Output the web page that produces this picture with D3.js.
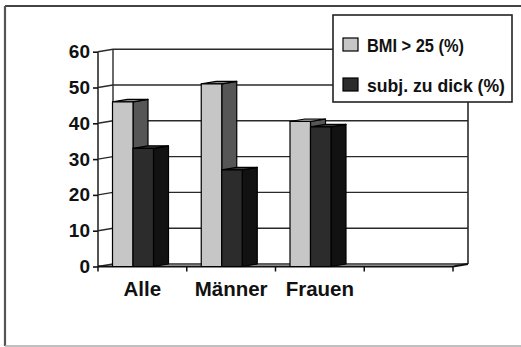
<!DOCTYPE html>
<html>
<head>
<meta charset="utf-8">
<script src="https://cdn.jsdelivr.net/npm/d3@7/dist/d3.min.js"></script>
<style>
  html, body { margin: 0; padding: 0; background: #fff; }
  svg { display: block; }
  text { font-family: "Liberation Sans", Arial, sans-serif; font-weight: bold; fill: #111; }
</style>
</head>
<body>
<script>
// Category slots along the floor (the last slot is left empty)
const categories = ["Alle", "Männer", "Frauen", ""];
// Series names and values in percent
const seriesNames = ["BMI > 25 (%)", "subj. zu dick (%)"];
const bmiOver25 = [46, 51, 40.5];
const subjZuDick = [33, 27, 39];
// Value-axis tick labels
const yTicks = [0, 10, 20, 30, 40, 50, 60];

const W = 521, H = 347;
const svg = d3.select("body").append("svg").attr("width", W).attr("height", H);

// 3D depth offset of the plot box
const DX = 15, DY = -2.5;

const y = d3.scaleLinear().domain([0, 60]).range([266.5, 51.7]);
const x = d3.scaleBand().domain(categories).range([98, 453]).paddingInner(0).paddingOuter(0);
const inner = d3.scaleBand().domain(seriesNames).range([14.5, 55.5]);

// Outer frame
svg.append("line").attr("x1", 5).attr("y1", 6).attr("x2", W).attr("y2", 6)
  .attr("stroke", "#444").attr("stroke-width", 2);
svg.append("line").attr("x1", 5).attr("y1", 6).attr("x2", 5).attr("y2", 346)
  .attr("stroke", "#555").attr("stroke-width", 2.2);
svg.append("line").attr("x1", 5).attr("y1", 346).attr("x2", W).attr("y2", 346)
  .attr("stroke", "#aaa").attr("stroke-width", 1.5);

const plot = svg.append("g");
const x0 = x.range()[0], x1 = x.range()[1];
const gridColor = "#2a2a2a";

// Gridlines: side-wall connector plus back-wall line
yTicks.forEach(v => {
  const yf = y(v), yb = y(v) + DY;
  plot.append("path")
    .attr("d", `M${x0},${yf}L${x0 + DX},${yb}L${x1 + DX},${yb}`)
    .attr("fill", "none").attr("stroke", gridColor).attr("stroke-width", v === 0 ? 1.6 : 1.4);
});
// Walls: front axis, back-left edge, back-right edge
plot.append("line").attr("x1", x0).attr("y1", y(0)).attr("x2", x0).attr("y2", y(60))
  .attr("stroke", gridColor).attr("stroke-width", 1.6);
plot.append("line").attr("x1", x0 + DX).attr("y1", y(0) + DY).attr("x2", x0 + DX).attr("y2", y(60) + DY)
  .attr("stroke", gridColor).attr("stroke-width", 1.4);
plot.append("line").attr("x1", x1 + DX).attr("y1", y(0) + DY).attr("x2", x1 + DX).attr("y2", y(60) + DY)
  .attr("stroke", gridColor).attr("stroke-width", 1.6);
// Floor front edge and right edge
plot.append("path")
  .attr("d", `M${x0},${y(0)}L${x1},${y(0)}L${x1 + DX},${y(0) + DY}`)
  .attr("fill", "none").attr("stroke", "#111").attr("stroke-width", 2.2);

// Value axis ticks and labels
const yAxis = d3.axisLeft(y).tickValues(yTicks).tickSize(5).tickPadding(3);
const ya = plot.append("g").attr("transform", `translate(${x0},0)`).call(yAxis);
ya.select(".domain").remove();
ya.selectAll(".tick line").attr("stroke", "#111").attr("stroke-width", 1.6);
ya.selectAll(".tick text").attr("font-size", 19).attr("font-family", null).attr("fill", "#111");

// Category axis ticks and labels
const bounds = categories.map(c => x(c) + x.bandwidth()).concat([x0]);
bounds.forEach(bx => {
  plot.append("line").attr("x1", bx).attr("y1", y(0)).attr("x2", bx).attr("y2", y(0) + 5)
    .attr("stroke", "#111").attr("stroke-width", 1.5);
});
categories.forEach(c => {
  plot.append("text").attr("x", x(c) + x.bandwidth() / 2).attr("y", 296)
    .attr("text-anchor", "middle").attr("font-size", 20.5).text(c);
});

// Bars: front, side and top faces
const colors = [
  { front: "#c6c6c6", side: "#565656", top: "#8a8a8a" },
  { front: "#2c2c2c", side: "#121212", top: "#3a3a3a" }
];
const values = [bmiOver25, subjZuDick];
const bars = plot.append("g");
categories.slice(0, 3).forEach((c, i) => {
  seriesNames.forEach((s, j) => {
    const v = values[j][i];
    const bx = x(c) + inner(s), bw = inner.bandwidth();
    const yt = y(v), yb = y(0);
    const col = colors[j];
    const g = bars.append("g").attr("stroke", "#000").attr("stroke-width", 1.2).attr("stroke-linejoin", "round");
    g.append("path").attr("fill", col.side)
      .attr("d", `M${bx + bw},${yb}L${bx + bw},${yt}L${bx + bw + DX},${yt + DY}L${bx + bw + DX},${yb + DY}Z`);
    g.append("path").attr("fill", col.top)
      .attr("d", `M${bx},${yt}L${bx + DX},${yt + DY}L${bx + bw + DX},${yt + DY}L${bx + bw},${yt}Z`);
    g.append("rect").attr("fill", col.front)
      .attr("x", bx).attr("y", yt).attr("width", bw).attr("height", yb - yt);
  });
});

// Legend
const lg = svg.append("g");
lg.append("rect").attr("x", 333).attr("y", 15).attr("width", 179).attr("height", 87)
  .attr("fill", "#fff").attr("stroke", "#222").attr("stroke-width", 1.6);
const legendRows = [
  { y: 38, base: 52, len: 97 },
  { y: 78, base: 92, len: 138 }
];
seriesNames.forEach((s, j) => {
  const r = legendRows[j];
  lg.append("rect").attr("x", 343).attr("y", r.y).attr("width", 15).attr("height", 13)
    .attr("fill", colors[j].front).attr("stroke", "#000").attr("stroke-width", 1.2);
  lg.append("text").attr("x", 367).attr("y", r.base).attr("font-size", 17.5)
    .attr("textLength", r.len).attr("lengthAdjust", "spacingAndGlyphs").text(s);
});
</script>
</body>
</html>
